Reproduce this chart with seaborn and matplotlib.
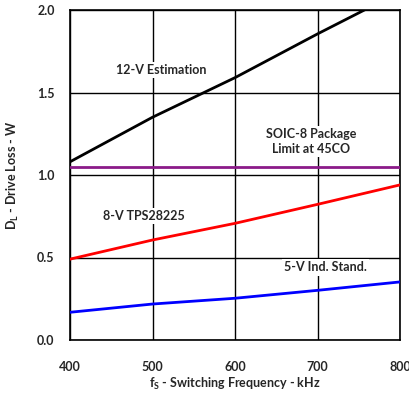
import pandas as pd
import matplotlib
matplotlib.use('Agg')
import matplotlib.pyplot as plt
import seaborn as sns

# Values
freq_khz = [400, 500, 600, 700, 800]
loss_12v = [1.08, 1.35, 1.59, 1.855, 2.11]
loss_8v = [0.49, 0.606, 0.707, 0.822, 0.94]
loss_5v = [0.168, 0.218, 0.253, 0.301, 0.352]
soic8_limit = [1.05, 1.05, 1.05, 1.05, 1.05]

series_names = ['12-V Estimation', 'SOIC-8 Limit', '8-V TPS28225', '5-V Ind. Stand.']
series_colors = ['black', '#8B1A89', '#FF0000', '#0000FF']

x_ticks = [400, 500, 600, 700, 800]
y_ticks = [0.0, 0.5, 1.0, 1.5, 2.0]

df = pd.DataFrame({
    'freq': freq_khz * 4,
    'loss': loss_12v + soic8_limit + loss_8v + loss_5v,
    'series': sum([[n] * len(freq_khz) for n in series_names], []),
})

sns.set_style('white')
plt.rcParams['font.family'] = ['Lato', 'DejaVu Sans']
plt.rcParams['font.weight'] = 'bold'

fig = plt.figure(figsize=(4.1, 3.93), dpi=100)
ax = fig.add_axes([70 / 410, 53 / 393, 330 / 410, 330 / 393])

sns.lineplot(data=df, x='freq', y='loss', hue='series', hue_order=series_names,
             palette=series_colors, linewidth=2.0, legend=False, ax=ax, zorder=3)

ax.set_xlim(400, 800)
ax.set_ylim(0, 2.0)
ax.set_xticks(x_ticks)
ax.set_yticks(y_ticks)
ax.set_yticklabels([f'{v:.1f}' for v in y_ticks])
ax.grid(True, color='black', linewidth=1.0)
ax.set_axisbelow(True)
for s in ax.spines.values():
    s.set_color('black')
    s.set_linewidth(1.2)
ax.tick_params(axis='x', length=0, labelsize=9, pad=15)
ax.tick_params(axis='y', length=0, labelsize=9, pad=11)
for lbl in ax.get_xticklabels() + ax.get_yticklabels():
    lbl.set_fontweight('bold')

ax.set_xlabel(r'f$_\mathregular{S}$ - Switching Frequency - kHz', fontsize=9,
              fontweight='bold')
ax.set_ylabel(r'D$_\mathregular{L}$ - Drive Loss - W', fontsize=9,
              fontweight='bold')
ax.xaxis.set_label_coords(0.5, -0.108)
ax.yaxis.set_label_coords(-0.147, 0.5)

box = dict(facecolor='white', edgecolor='none', pad=1.5)
ax.text(510, 1.635, '12-V Estimation', ha='center', va='center',
        fontsize=9, fontweight='bold', bbox=box, zorder=4)
ax.text(692, 1.205, 'SOIC-8 Package\nLimit at 45CO', ha='center', va='center',
        fontsize=9, fontweight='bold', bbox=box, zorder=4, linespacing=1.3)
ax.text(490, 0.75, '8-V TPS28225', ha='center', va='center',
        fontsize=9, fontweight='bold', bbox=box, zorder=4)
ax.text(710, 0.44, '5-V Ind. Stand.', ha='center', va='center',
        fontsize=9, fontweight='bold', bbox=box, zorder=4)

fig.savefig('out.png', dpi=100)
